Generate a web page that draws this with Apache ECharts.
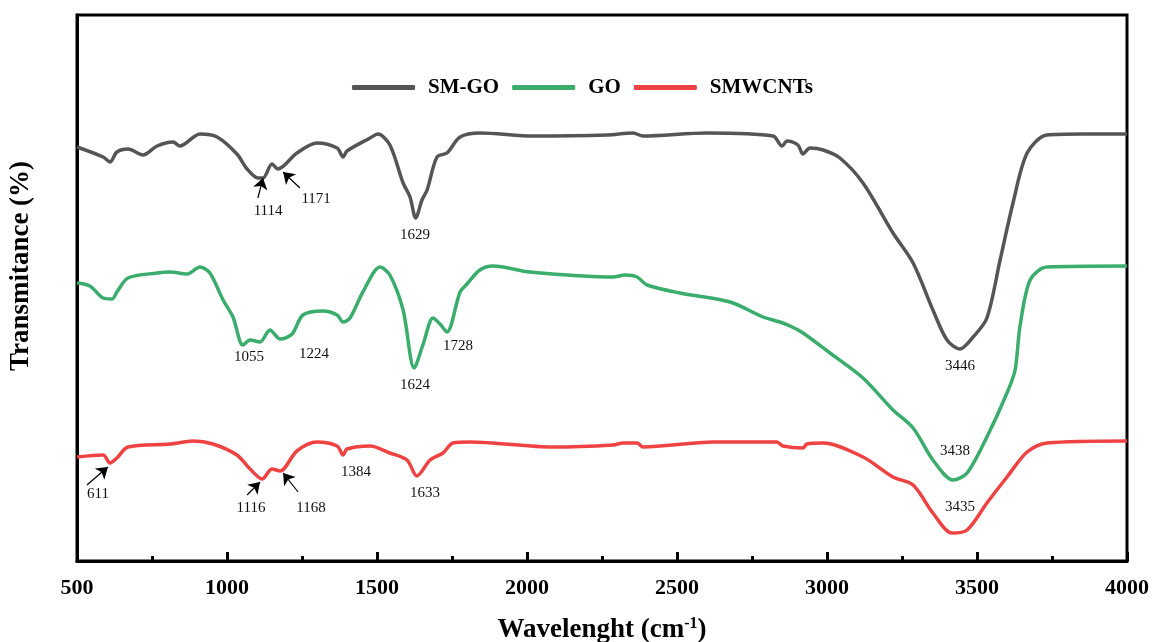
<!DOCTYPE html>
<html>
<head>
<meta charset="utf-8">
<script src="https://cdn.jsdelivr.net/npm/echarts@6/dist/echarts.min.js"></script>
<style>html,body{margin:0;padding:0;background:#fff}#c{width:1153px;height:642px}</style>
</head>
<body>
<div id="c"></div>
<script>
// Wavenumber (cm-1) and transmittance (offset traces, arbitrary units)
const seriesNames = ['SM-GO', 'GO', 'SMWCNTs'];
const xTicks = [500, 1000, 1500, 2000, 2500, 3000, 3500, 4000];

const smgo = [[500,414],[587,404],[610,399],[633,409],[670,412],[720,406],[767,415],[820,419],[843,415],[910,427],[967,424],[1033,407],[1067,392],[1103,383],[1120,383],[1150,397],[1170,392],[1233,408],[1300,418],[1367,413],[1387,404],[1400,410],[1477,423],[1503,427],[1543,416],[1587,378],[1610,364],[1629,343],[1650,361],[1667,371],[1700,404],[1733,408],[1777,424],[1843,428],[2020,425],[2267,426],[2353,428],[2387,425],[2600,428],[2820,425],[2850,415],[2867,420],[2903,416],[2920,407],[2943,413],[2987,411],[3043,403],[3120,378],[3220,328],[3287,298],[3353,251],[3400,221],[3443,212],[3487,224],[3533,243],[3577,301],[3620,358],[3667,408],[3733,426],[3850,427],[4000,427]];

const go = [[500,278],[543,275],[587,263],[617,262],[633,269],[670,283],[767,288],[810,289],[867,287],[910,294],[943,288],[987,261],[1020,244],[1053,216],[1077,221],[1110,219],[1143,231],[1177,222],[1217,227],[1253,246],[1320,250],[1367,246],[1387,239],[1410,243],[1453,269],[1510,294],[1543,286],[1587,251],[1624,193],[1653,216],[1687,243],[1710,237],[1733,229],[1777,269],[1800,277],[1843,291],[1887,295],[2010,289],[2287,284],[2327,286],[2367,284],[2400,276],[2510,268],[2677,259],[2787,244],[2843,239],[2877,235],[2920,228],[3010,208],[3120,183],[3220,151],[3287,133],[3353,101],[3420,81],[3467,88],[3533,124],[3600,168],[3627,191],[3643,234],[3677,281],[3733,294],[4000,295]];

const smwcnts = [[500,104],[587,106],[610,98],[633,103],[670,114],[810,117],[887,120],[953,117],[1033,106],[1077,92],[1117,82],[1150,92],[1177,90],[1233,110],[1300,119],[1367,115],[1387,106],[1400,112],[1477,115],[1543,108],[1600,101],[1633,85],[1677,101],[1720,108],[1753,118],[1810,119],[2087,114],[2287,116],[2320,118],[2367,118],[2387,114],[2620,119],[2833,119],[2853,115],[2920,113],[2933,117],[2987,118],[3120,104],[3220,84],[3287,76],[3353,48],[3417,28],[3467,31],[3533,58],[3600,84],[3667,109],[3733,118],[4000,120]];

// peak labels: [series index, text, wavenumber, level]
const peakLabels = [
  [0,'1114',1137,350],[0,'1171',1297,362],[0,'1629',1627,326],[0,'3446',3443,195],
  [1,'1055',1073,204],[1,'1224',1290,207],[1,'1624',1627,176],[1,'1728',1770,215],[1,'3438',3427,110],
  [2,'611',570,67],[2,'1116',1080,53],[2,'1168',1280,53],[2,'1384',1430,89],[2,'1633',1660,68],[2,'3435',3443,54]
];
// arrows: [series index, tail wavenumber, tail level, tip wavenumber, tip level]
const peakArrows = [
  [0,1103,363,1120,383],[0,1243,373,1187,389],
  [2,533,76,603,94],[2,1067,66,1110,79],[2,1237,69,1187,88]
];

const colors = ['#555555', '#3aad6c', '#ef4242'];
const dataSets = [smgo, go, smwcnts];
const serif = '"Times New Roman","Liberation Serif",serif';

const chart = echarts.init(document.getElementById('c'));
const series = dataSets.map((d, i) => ({
  name: seriesNames[i],
  type: 'line',
  data: d,
  smooth: 0.3,
  showSymbol: false,
  symbol: 'none',
  lineStyle: { color: colors[i], width: 3.5 },
  itemStyle: { color: colors[i] },
  z: 3,
  markPoint: {
    silent: true,
    symbol: 'circle',
    symbolSize: 1,
    itemStyle: { color: 'rgba(0,0,0,0)' },
    label: { show: true, position: 'inside', color: '#111', fontFamily: serif, fontSize: 15, formatter: p => p.name },
    data: peakLabels.filter(a => a[0] === i).map(a => ({ name: a[1], coord: [a[2], a[3]] }))
  },
  markLine: {
    silent: true,
    animation: false,
    symbol: ['none', 'arrow'],
    symbolSize: 11,
    label: { show: false },
    itemStyle: { color: '#000' },
    lineStyle: { color: '#000', width: 1.2, type: 'solid' },
    data: peakArrows.filter(a => a[0] === i).map(a => [{ coord: [a[1], a[2]] }, { coord: [a[3], a[4]] }])
  }
}));

chart.setOption({
  animation: false,
  backgroundColor: '#fff',
  color: colors,
  grid: { left: 77, right: 26, top: 15, bottom: 81, show: true, borderColor: '#000', borderWidth: 3, containLabel: false, outerBoundsMode: 'none' },
  legend: {
    data: seriesNames,
    left: 347, top: 72,
    itemWidth: 63, itemHeight: 5, itemGap: 13,
    icon: 'roundRect',
    textStyle: { fontFamily: serif, fontWeight: 'bold', fontSize: 21, color: '#000', padding: [0, 0, 0, 8] }
  },
  xAxis: {
    type: 'value',
    min: xTicks[0], max: xTicks[xTicks.length - 1], interval: 500,
    name: '{b|Wavelenght (cm}{s|-1}{b|)}',
    nameLocation: 'middle', nameGap: 55,
    nameTextStyle: {
      rich: {
        b: { fontFamily: serif, fontWeight: 'bold', fontSize: 27, color: '#000' },
        s: { fontFamily: serif, fontWeight: 'bold', fontSize: 16, color: '#000', verticalAlign: 'top', padding: [0, 0, 12, 0] }
      }
    },
    axisLine: { lineStyle: { color: '#000', width: 3 } },
    axisTick: { inside: true, length: 9, lineStyle: { width: 3, color: '#000' } },
    minorTick: { show: true, splitNumber: 2, length: 5, lineStyle: { width: 3, color: '#000' } },
    axisLabel: { fontFamily: serif, fontSize: 22, fontWeight: 'bold', color: '#000', margin: 16, formatter: v => String(v) },
    splitLine: { show: false }
  },
  yAxis: {
    type: 'value', min: 0, max: 546,
    name: 'Transmitance (%)', nameLocation: 'middle', nameGap: 42,
    nameTextStyle: { fontFamily: serif, fontWeight: 'bold', fontSize: 27, color: '#000', padding: [0, 0, 0, 44] },
    axisLine: { show: true, lineStyle: { color: '#000', width: 3 } },
    axisTick: { show: false }, axisLabel: { show: false }, splitLine: { show: false }
  },
  series: series
});
</script>
</body>
</html>
